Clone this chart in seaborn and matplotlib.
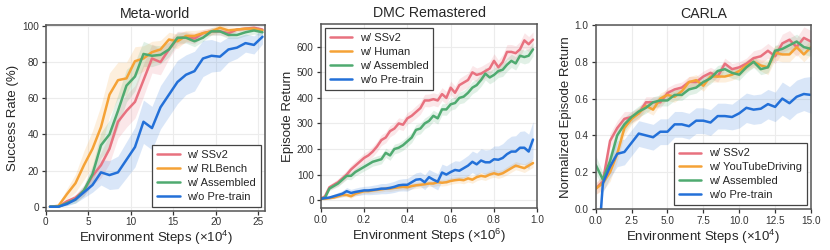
import numpy as np
import pandas as pd
import seaborn as sns
import matplotlib.pyplot as plt

sns.set_theme(style="whitegrid")
plt.rcParams["font.family"] = ["Liberation Sans", "DejaVu Sans"]
plt.rcParams["mathtext.fontset"] = "custom"
plt.rcParams["mathtext.rm"] = "Liberation Sans"
plt.rcParams["mathtext.it"] = "Liberation Sans"
plt.rcParams["axes.edgecolor"] = "#555555"
plt.rcParams["axes.linewidth"] = 1.1
plt.rcParams["grid.color"] = "#ececec"
plt.rcParams["grid.linewidth"] = 0.8
plt.rcParams["xtick.bottom"] = True
plt.rcParams["ytick.left"] = True
plt.rcParams["xtick.major.size"] = 3
plt.rcParams["ytick.major.size"] = 3
plt.rcParams["xtick.major.width"] = 0.9
plt.rcParams["ytick.major.width"] = 0.9
plt.rcParams["xtick.color"] = "#333333"
plt.rcParams["ytick.color"] = "#333333"
plt.rcParams["xtick.major.pad"] = 2
plt.rcParams["ytick.major.pad"] = 2

RED = "#E8717F"
ORANGE = "#F5A236"
GREEN = "#4FAA70"
BLUE = "#2370D8"

# -----------------------------------------------------------------
# Meta-world (x: env steps x1e4)
# -----------------------------------------------------------------
mw_steps = [0.5, 1.5, 2.5, 3.5, 4.5, 5.5, 6.5, 7.5, 8.5, 9.5, 10.5, 11.5, 12.5,
            13.5, 14.5, 15.5, 16.5, 17.5, 18.5, 19.5, 20.5, 21.5, 22.5, 23.5, 24.5, 25.5]
mw_ssv2 = [0, 0, 3, 5, 9, 17, 23, 32, 47, 53, 58, 70, 82,
           80, 87, 93, 94, 93, 96, 97, 97, 96, 98, 98.5, 99, 98]
mw_rlbench = [0, 0.5, 7, 13, 23, 32, 44, 62, 70, 71, 80.5, 82, 85.5,
              87, 92.5, 91.5, 94.5, 94.5, 96, 97, 99, 97.5, 98, 98.5, 98.5, 97.5]
mw_assembled = [0, 0, 2, 4, 9, 18, 34, 40, 53, 67, 72, 84.5, 83.5,
                84, 87, 93.5, 93.5, 91.5, 93.5, 97, 97, 95, 95, 96.5, 97.5, 96.5]
mw_scratch = [0, 0, 1.5, 4, 8, 12, 19, 17.5, 19, 26, 33, 47, 43.5,
              55, 62, 69, 73, 75, 82, 83.5, 83, 87, 88, 90.5, 89.5, 94]
mw_ssv2_std = [0, 0, 1, 2, 3, 5, 7, 8, 9, 9, 9, 9, 8,
               7, 5, 4, 3, 3, 2, 2, 2, 2, 1, 1, 1, 1]
mw_rlbench_std = [0, 1, 3, 5, 8, 10, 12, 12, 10, 9, 8, 7, 6,
                  5, 4, 4, 3, 3, 2, 2, 2, 2, 1, 1, 1, 1]
mw_assembled_std = [0, 0, 1, 2, 3, 5, 7, 8, 9, 9, 8, 7, 6,
                    5, 4, 3, 3, 3, 2, 2, 2, 2, 2, 2, 2, 2]
mw_scratch_std = [0, 0, 1, 2, 3, 4, 7, 8, 9, 10, 11, 12, 12,
                  12, 12, 12, 11, 11, 10, 9, 8, 7, 6, 5, 5, 4]

# -----------------------------------------------------------------
# DMC Remastered (x: env steps x1e6)
# -----------------------------------------------------------------
dmc_steps = [0.00, 0.02, 0.04, 0.06, 0.08, 0.10, 0.12, 0.14, 0.16, 0.18,
             0.20, 0.22, 0.24, 0.26, 0.28, 0.30, 0.32, 0.34, 0.36, 0.38,
             0.40, 0.42, 0.44, 0.46, 0.48, 0.50, 0.52, 0.54, 0.56, 0.58,
             0.60, 0.62, 0.64, 0.66, 0.68, 0.70, 0.72, 0.74, 0.76, 0.78,
             0.80, 0.82, 0.84, 0.86, 0.88, 0.90, 0.92, 0.94, 0.96, 0.98]
dmc_ssv2 = [5, 15, 50, 60, 70, 85, 100, 120, 135, 150,
            165, 175, 190, 210, 235, 245, 270, 280, 300, 295,
            320, 330, 345, 360, 390, 390, 395, 390, 415, 400,
            440, 420, 450, 460, 470, 500, 490, 495, 505, 515,
            545, 520, 540, 580, 580, 575, 590, 625, 610, 628]
dmc_human = [5, 5, 8, 10, 15, 20, 20, 15, 25, 30,
             35, 35, 38, 40, 42, 45, 45, 48, 50, 52,
             50, 55, 58, 60, 62, 65, 65, 70, 68, 70,
             75, 78, 80, 78, 85, 80, 90, 95, 92, 100,
             105, 100, 105, 115, 125, 135, 130, 125, 135, 145]
dmc_assembled = [5, 10, 45, 55, 65, 80, 95, 95, 110, 120,
                 130, 140, 150, 155, 160, 185, 175, 200, 205, 215,
                 230, 245, 275, 280, 300, 310, 330, 320, 355, 355,
                 375, 380, 400, 405, 420, 440, 450, 470, 495, 480,
                 490, 505, 510, 530, 545, 535, 565, 560, 565, 590]
dmc_scratch = [5, 8, 10, 15, 20, 25, 35, 28, 32, 35,
               38, 38, 40, 42, 45, 45, 48, 52, 58, 60,
               60, 70, 80, 82, 70, 90, 80, 72, 108, 100,
               110, 118, 115, 125, 135, 150, 140, 155, 148, 148,
               160, 158, 165, 180, 190, 190, 205, 205, 190, 237]
dmc_ssv2_std = [2, 5, 10, 12, 14, 15, 16, 17, 18, 18,
                19, 19, 20, 20, 21, 21, 22, 22, 22, 23,
                23, 23, 24, 24, 24, 25, 25, 25, 25, 26,
                26, 26, 26, 27, 27, 27, 27, 28, 28, 28,
                28, 28, 29, 29, 29, 29, 30, 30, 30, 30]
dmc_human_std = [2, 3, 4, 5, 6, 7, 7, 8, 8, 9,
                 9, 9, 10, 10, 10, 10, 11, 11, 11, 11,
                 11, 12, 12, 12, 12, 12, 12, 13, 13, 13,
                 13, 13, 13, 14, 14, 14, 14, 14, 15, 15,
                 15, 15, 15, 16, 16, 16, 16, 17, 17, 17]
dmc_assembled_std = [2, 4, 8, 10, 12, 13, 14, 15, 15, 16,
                     16, 17, 17, 18, 18, 18, 19, 19, 19, 20,
                     20, 20, 21, 21, 21, 22, 22, 22, 22, 23,
                     23, 23, 23, 24, 24, 24, 24, 25, 25, 25,
                     25, 25, 26, 26, 26, 26, 26, 27, 27, 27]
dmc_scratch_std = [2, 4, 6, 8, 10, 12, 14, 14, 15, 16,
                   16, 17, 18, 19, 20, 20, 21, 22, 23, 24,
                   25, 26, 27, 28, 29, 30, 31, 32, 33, 34,
                   35, 36, 37, 38, 40, 42, 44, 46, 48, 50,
                   52, 54, 56, 58, 60, 62, 64, 66, 68, 70]

# -----------------------------------------------------------------
# CARLA (x: env steps x1e4)
# -----------------------------------------------------------------
carla_steps = [0.0, 0.5, 1.0, 1.5, 2.0, 2.5, 3.0, 3.5, 4.0, 4.5, 5.0,
               5.5, 6.0, 6.5, 7.0, 7.5, 8.0, 8.5, 9.0, 9.5, 10.0,
               10.5, 11.0, 11.5, 12.0, 12.5, 13.0, 13.5, 14.0, 14.5, 15.0]
carla_ssv2 = [0.11, 0.15, 0.37, 0.44, 0.49, 0.50, 0.52, 0.58, 0.58, 0.58, 0.63,
              0.65, 0.66, 0.69, 0.69, 0.72, 0.74, 0.72, 0.79, 0.76, 0.77,
              0.79, 0.82, 0.83, 0.86, 0.83, 0.90, 0.92, 0.88, 0.93, 0.91]
carla_youtube = [0.11, 0.14, 0.20, 0.30, 0.44, 0.49, 0.52, 0.56, 0.54, 0.60, 0.62,
                 0.61, 0.64, 0.69, 0.70, 0.67, 0.72, 0.72, 0.72, 0.73, 0.75,
                 0.78, 0.80, 0.78, 0.77, 0.85, 0.84, 0.84, 0.88, 0.84, 0.88]
carla_assembled = [0.24, 0.16, 0.26, 0.40, 0.46, 0.50, 0.53, 0.55, 0.58, 0.59, 0.59,
                   0.62, 0.62, 0.65, 0.66, 0.69, 0.71, 0.75, 0.76, 0.74, 0.73,
                   0.77, 0.80, 0.76, 0.77, 0.86, 0.87, 0.89, 0.91, 0.88, 0.87]
carla_scratch = [-0.40, 0.14, 0.23, 0.30, 0.31, 0.36, 0.41, 0.40, 0.39, 0.42, 0.42,
                 0.46, 0.46, 0.45, 0.48, 0.48, 0.47, 0.505, 0.505, 0.50, 0.52,
                 0.55, 0.54, 0.545, 0.57, 0.555, 0.60, 0.575, 0.61, 0.625, 0.62]
carla_ssv2_std = [0.03, 0.04, 0.04, 0.04, 0.04, 0.03, 0.03, 0.03, 0.03, 0.03, 0.03,
                  0.03, 0.03, 0.03, 0.03, 0.03, 0.03, 0.03, 0.03, 0.03, 0.03,
                  0.03, 0.04, 0.04, 0.04, 0.04, 0.05, 0.05, 0.05, 0.06, 0.06]
carla_youtube_std = [0.03, 0.04, 0.05, 0.04, 0.04, 0.03, 0.03, 0.03, 0.03, 0.03, 0.03,
                     0.03, 0.03, 0.03, 0.03, 0.03, 0.03, 0.03, 0.03, 0.03, 0.03,
                     0.03, 0.03, 0.03, 0.04, 0.04, 0.04, 0.04, 0.04, 0.04, 0.04]
carla_assembled_std = [0.05, 0.04, 0.05, 0.04, 0.04, 0.03, 0.03, 0.03, 0.03, 0.03, 0.03,
                       0.03, 0.03, 0.03, 0.03, 0.03, 0.03, 0.03, 0.03, 0.03, 0.03,
                       0.03, 0.03, 0.03, 0.03, 0.03, 0.03, 0.04, 0.04, 0.04, 0.04]
carla_scratch_std = [0.05, 0.05, 0.06, 0.07, 0.07, 0.07, 0.07, 0.07, 0.07, 0.07, 0.07,
                     0.07, 0.07, 0.07, 0.07, 0.07, 0.07, 0.07, 0.07, 0.07, 0.08,
                     0.08, 0.08, 0.08, 0.08, 0.08, 0.09, 0.09, 0.09, 0.09, 0.10]


def draw(ax, steps, series):
    for label, mean, std, color in series:
        mean = np.asarray(mean, dtype=float)
        std = np.asarray(std, dtype=float)
        ax.fill_between(steps, mean - std, mean + std, color=color, alpha=0.17, lw=0)
        sns.lineplot(x=steps, y=mean, color=color, label=label, ax=ax, linewidth=1.8)


def style(ax, title, ylabel, xlabel, loc):
    ax.set_title(title, fontsize=10.2, pad=5)
    ax.set_ylabel(ylabel, fontsize=9.5, labelpad=2)
    ax.set_xlabel(xlabel, fontsize=9.5, labelpad=1)
    ax.tick_params(labelsize=7.2)
    leg = ax.legend(loc=loc, fontsize=8.0, frameon=True, fancybox=False,
                    handlelength=2.0, handletextpad=0.7, borderaxespad=0.35,
                    labelspacing=0.35, borderpad=0.45)
    leg.get_frame().set_edgecolor("#444444")
    leg.get_frame().set_linewidth(0.9)
    leg.get_frame().set_alpha(1)


fig = plt.figure(figsize=(8.3, 2.5), dpi=100)
ax1 = fig.add_axes([0.0551, 0.158, 0.2642, 0.744])
ax2 = fig.add_axes([0.3864, 0.1668, 0.2610, 0.736])
ax3 = fig.add_axes([0.7177, 0.164, 0.2594, 0.736])

xlab4 = r"Environment Steps ($\times10^4$)"
xlab6 = r"Environment Steps ($\times10^6$)"

draw(ax1, mw_steps, [
    ("w/ SSv2", mw_ssv2, mw_ssv2_std, RED),
    ("w/ RLBench", mw_rlbench, mw_rlbench_std, ORANGE),
    ("w/ Assembled", mw_assembled, mw_assembled_std, GREEN),
    ("w/o Pre-train", mw_scratch, mw_scratch_std, BLUE),
])
ax1.set_xlim(0, 25.8)
ax1.set_ylim(-2.1, 100.8)
ax1.set_xticks([0, 5, 10, 15, 20, 25])
ax1.set_yticks([0, 20, 40, 60, 80, 100])
style(ax1, "Meta-world", "Success Rate (%)", xlab4, "lower right")

draw(ax2, dmc_steps, [
    ("w/ SSv2", dmc_ssv2, dmc_ssv2_std, RED),
    ("w/ Human", dmc_human, dmc_human_std, ORANGE),
    ("w/ Assembled", dmc_assembled, dmc_assembled_std, GREEN),
    ("w/o Pre-train", dmc_scratch, dmc_scratch_std, BLUE),
])
ax2.set_xlim(0, 1.0)
ax2.set_ylim(-32, 688)
ax2.set_xticks([0.0, 0.2, 0.4, 0.6, 0.8, 1.0])
ax2.set_xticklabels(["0.0", "0.2", "0.4", "0.6", "0.8", "1.0"])
ax2.set_yticks([0, 100, 200, 300, 400, 500, 600])
style(ax2, "DMC Remastered", "Episode Return", xlab6, "upper left")

draw(ax3, carla_steps, [
    ("w/ SSv2", carla_ssv2, carla_ssv2_std, RED),
    ("w/ YouTubeDriving", carla_youtube, carla_youtube_std, ORANGE),
    ("w/ Assembled", carla_assembled, carla_assembled_std, GREEN),
    ("w/o Pre-train", carla_scratch, carla_scratch_std, BLUE),
])
ax3.set_xlim(0, 15)
ax3.set_ylim(0, 1.0)
ax3.set_xticks([0, 2.5, 5, 7.5, 10, 12.5, 15])
ax3.set_xticklabels(["0.0", "2.5", "5.0", "7.5", "10.0", "12.5", "15.0"])
ax3.set_yticks([0, 0.2, 0.4, 0.6, 0.8, 1.0])
ax3.set_yticklabels(["0.0", "0.2", "0.4", "0.6", "0.8", "1.0"])
style(ax3, "CARLA", "Normalized Episode Return", xlab4, "lower right")

fig.savefig("out.png", dpi=100)
